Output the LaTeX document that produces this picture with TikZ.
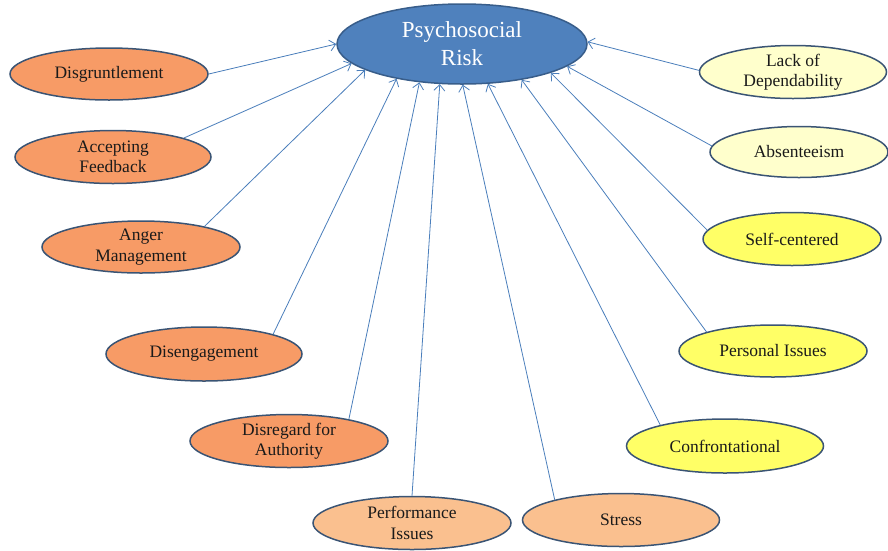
\documentclass[tikz,border=0pt]{standalone}
\usepackage{fontspec}
\setmainfont{Liberation Serif}
\usetikzlibrary{arrows.meta,shapes.geometric}
\definecolor{orangefill}{HTML}{F79B66}
\definecolor{lorangefill}{HTML}{FAC08F}
\definecolor{yellowfill}{HTML}{FFFF66}
\definecolor{lyellowfill}{HTML}{FFFFCC}
\definecolor{bluefill}{HTML}{4F81BD}
\definecolor{blueborder}{HTML}{385D8A}
\definecolor{nodeborder}{HTML}{3A5474}
\definecolor{arrowcol}{HTML}{4A7EBB}
\definecolor{txt}{HTML}{1A1A1A}
\tikzset{
  oval/.style={ellipse, draw=nodeborder, line width=1.5pt, inner sep=0pt,
    align=center, text=txt, font=\fontsize{17.5}{20.5}\selectfont},
  orangeoval/.style={oval, fill=orangefill},
  lorangeoval/.style={oval, fill=lorangefill},
  yellowoval/.style={oval, fill=yellowfill},
  lyellowoval/.style={oval, fill=lyellowfill},
  link/.style={draw=arrowcol, line width=0.8pt, -{Straight Barb[length=6pt,width=11pt]}},
}
\begin{document}
\begin{tikzpicture}[x=1pt,y=-1pt]
\useasboundingbox (0,0) rectangle (888,550);
\node[ellipse, draw=blueborder, fill=bluefill, line width=1.5pt, inner sep=0pt,
  minimum width=250pt, minimum height=80pt, align=center, text=white,
  font=\fontsize{23}{28}\selectfont] (risk) at (462,44) {Psychosocial\\Risk};

\node[orangeoval, minimum width=198pt, minimum height=52pt] (dis) at (109,74) {Disgruntlement};
\node[orangeoval, minimum width=196pt, minimum height=53pt] (acc) at (113,157) {Accepting\\Feedback};
\node[orangeoval, minimum width=198pt, minimum height=52pt] (ang) at (141,247) {Anger\\Management};
\node[orangeoval, minimum width=196pt, minimum height=54pt] (eng) at (204,354) {Disengagement};
\node[orangeoval, minimum width=198pt, minimum height=53pt] (reg) at (289,441) {Disregard for\\Authority};
\node[lorangeoval, minimum width=198pt, minimum height=53pt] (perf) at (412,523) {Performance\\Issues};
\node[lorangeoval, minimum width=197pt, minimum height=53pt] (str) at (621,520) {Stress};
\node[yellowoval, minimum width=197pt, minimum height=54pt] (conf) at (725,446) {Confrontational};
\node[yellowoval, minimum width=188pt, minimum height=52pt] (pers) at (773,351) {Personal Issues};
\node[yellowoval, minimum width=178pt, minimum height=53pt] (self) at (792,239) {Self-centered};
\node[lyellowoval, minimum width=178pt, minimum height=51pt] (abs) at (799,152) {Absenteeism};
\node[lyellowoval, minimum width=187pt, minimum height=53pt] (lack) at (793,72) {Lack of\\Dependability};

\draw[link] (dis.0) -- (risk.180);
\draw[link] (acc.15) -- (risk.190);
\draw[link] (ang.18) -- (risk.195);
\draw[link] (eng.16) -- (risk.208);
\draw[link] (reg.20) -- (risk.222);
\draw[link] (perf.90) -- (risk.241);
\draw[link] (str.163) -- (risk.271);
\draw[link] (conf.162) -- (risk.303);
\draw[link] (pers.164) -- (risk.329);
\draw[link] (self.174) -- (risk.342);
\draw[link] (abs.176) -- (risk.348);
\draw[link] (lack.179) -- (risk.1);
\end{tikzpicture}
\end{document}
